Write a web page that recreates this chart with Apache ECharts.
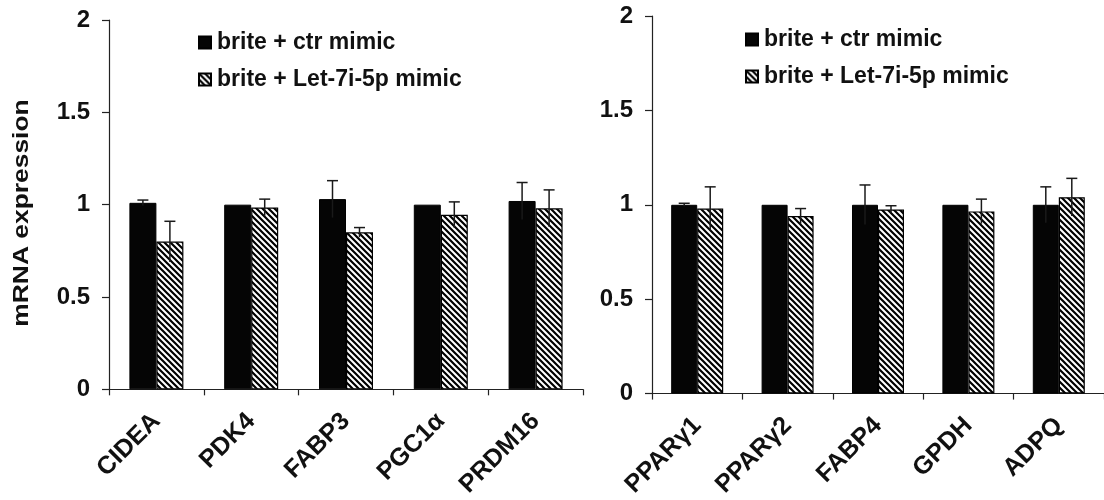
<!DOCTYPE html>
<html><head><meta charset="utf-8">
<script src="https://cdn.jsdelivr.net/npm/echarts@6/dist/echarts.min.js"></script>
<style>html,body{margin:0;padding:0;background:#fff}#c{width:1104px;height:500px}</style>
</head><body><div id="c"></div>
<script>
// ---- data ----
const seriesNames = ['brite + ctr mimic', 'brite + Let-7i-5p mimic'];
const yTicks = [0, 0.5, 1, 1.5, 2];

const leftCategories = ['CIDEA', 'PDK4', 'FABP3', 'PGC1α', 'PRDM16'];
const leftCtr = [1.01, 1.00, 1.03, 1.00, 1.02];
const leftCtrErr = [0.015, 0, 0.10, 0, 0.10];
const leftMimic = [0.80, 0.985, 0.85, 0.945, 0.98];
const leftMimicErr = [0.11, 0.045, 0.026, 0.07, 0.10];

const rightCategories = ['PPARγ1', 'PPARγ2', 'FABP4', 'GPDH', 'ADPQ'];
const rightCtr = [1.00, 1.00, 1.00, 1.00, 1.00];
const rightCtrErr = [0.008, 0, 0.105, 0, 0.095];
const rightMimic = [0.98, 0.94, 0.975, 0.965, 1.04];
const rightMimicErr = [0.115, 0.04, 0.02, 0.065, 0.10];

// ---- styling ----
const FONT = '"Liberation Sans", Arial, Helvetica, sans-serif';
function makeHatch() {
  const s = 6, c = document.createElement('canvas');
  c.width = s; c.height = s;
  const g = c.getContext('2d');
  g.fillStyle = '#fff'; g.fillRect(0, 0, s, s);
  g.strokeStyle = '#000'; g.lineWidth = 2.2;
  g.beginPath();
  g.moveTo(-2, -2); g.lineTo(s + 2, s + 2);
  g.moveTo(-2, s - 2); g.lineTo(2, s + 2);
  g.moveTo(s - 2, -2); g.lineTo(s + 2, 2);
  g.stroke();
  return c;
}
const hatch = { image: makeHatch(), repeat: 'repeat' };

const panels = [
  { cats: leftCategories, ctr: leftCtr, ctrErr: leftCtrErr, mimic: leftMimic, mimicErr: leftMimicErr, bw: 27,
    grid: { left: 109, top: 20, width: 474, height: 373 }, legend: { left: 193, top: 26 } },
  { cats: rightCategories, ctr: rightCtr, ctrErr: rightCtrErr, mimic: rightMimic, mimicErr: rightMimicErr, bw: 26,
    grid: { left: 652, top: 16, width: 456, height: 380 }, legend: { left: 740, top: 23 } }
];

const grid = [], xAxis = [], yAxis = [], series = [], legend = [];
panels.forEach((p, k) => {
  grid.push(p.grid);
  xAxis.push({
    type: 'category', gridIndex: k, data: p.cats,
    axisLine: { lineStyle: { color: '#222', width: 1.2 } },
    axisTick: { show: true, length: 6, lineStyle: { color: '#222', width: 1.2 } },
    axisLabel: { interval: 0, rotate: 45, margin: 28, color: '#111', fontFamily: FONT, fontSize: 25, fontWeight: 'bold' },
    splitLine: { show: false }
  });
  yAxis.push({
    type: 'value', gridIndex: k, min: 0, max: 2, interval: 0.5,
    axisLine: { show: true, lineStyle: { color: '#222', width: 1.2 } },
    axisTick: { show: true, length: 7, lineStyle: { color: '#222', width: 1.2 } },
    axisLabel: { margin: 19, color: '#111', fontFamily: FONT, fontSize: 24, fontWeight: 'bold',
      formatter: v => String(v) },
    splitLine: { show: false }
  });
  series.push({
    name: seriesNames[0], type: 'bar', xAxisIndex: k, yAxisIndex: k, data: p.ctr,
    barWidth: p.bw, barGap: '0%',
    itemStyle: { color: '#050505', borderColor: '#000', borderWidth: 1 }, z: 2
  });
  series.push({
    name: seriesNames[1], type: 'bar', xAxisIndex: k, yAxisIndex: k, data: p.mimic,
    barWidth: p.bw, barGap: '0%',
    itemStyle: { color: hatch, borderColor: '#000', borderWidth: 1.2 }, z: 2
  });
  [[p.ctr, p.ctrErr, -1], [p.mimic, p.mimicErr, 1]].forEach(([vals, errs, side]) => {
    series.push({
      type: 'custom', xAxisIndex: k, yAxisIndex: k, z: 5, silent: true,
      data: vals.map((v, i) => [i, v, errs[i]]),
      encode: { x: 0, y: 1 },
      renderItem: (params, api) => {
        const i = api.value(0), v = api.value(1), e = api.value(2);
        if (!e) return null;
        const top = api.coord([i, v + e]);
        const bot = api.coord([i, v - e]);
        const x = top[0] + side * p.bw / 2;
        const st = { stroke: '#1a1a1a', lineWidth: 1.5 };
        return {
          type: 'group', children: [
            { type: 'line', shape: { x1: x, y1: top[1], x2: x, y2: bot[1] }, style: st },
            { type: 'line', shape: { x1: x - 5.5, y1: top[1], x2: x + 5.5, y2: top[1] }, style: st }
          ]
        };
      }
    });
  });
  legend.push({
    left: p.legend.left, top: p.legend.top, orient: 'vertical',
    data: seriesNames, itemWidth: 12, itemHeight: 12, itemGap: 14,
    icon: 'rect', selectedMode: false,
    textStyle: { fontFamily: FONT, fontSize: 23, fontWeight: 'bold', color: '#111', padding: [0, 0, 0, 1] }
  });
});

const chart = echarts.init(document.getElementById('c'), null, { renderer: 'canvas' });
chart.setOption({
  animation: false,
  backgroundColor: '#fff',
  grid, xAxis, yAxis, series, legend,
  graphic: [{
    type: 'text', x: 22, y: 213, rotation: Math.PI / 2, scaleX: 1.2,
    style: { text: 'mRNA expression', fontFamily: FONT, fontSize: 22, fontWeight: 'bold', fill: '#111',
      align: 'center', verticalAlign: 'middle' }
  }]
});
</script></body></html>
